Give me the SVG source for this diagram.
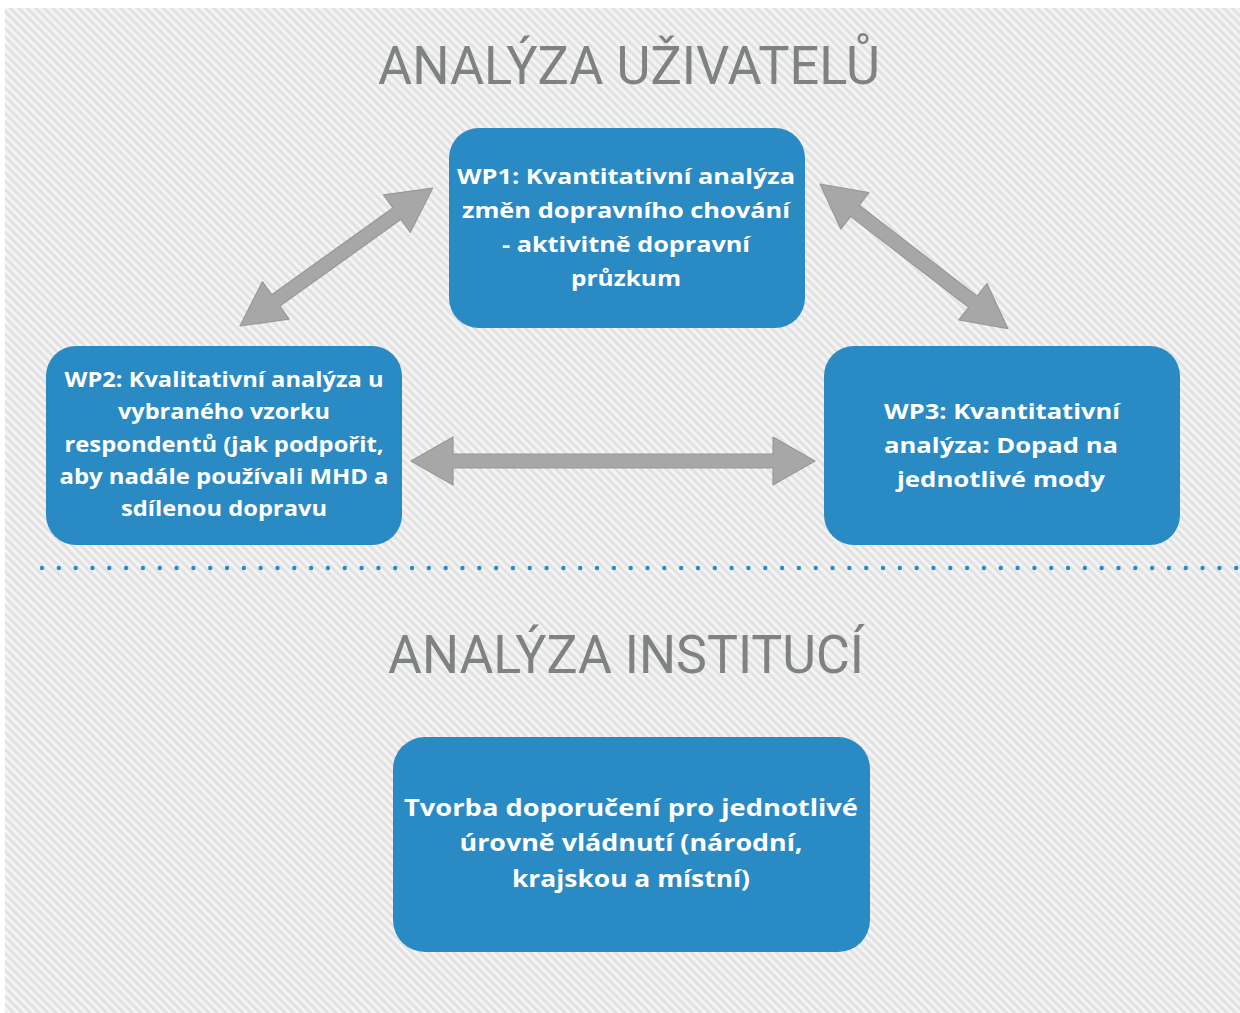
<svg xmlns="http://www.w3.org/2000/svg" width="1240" height="1013" viewBox="0 0 1240 1013">
<style>
.box{fill:#2a8ac4}
.bt{font-family:"Open Sans",Lato,"DejaVu Sans",sans-serif;font-weight:700;fill:#fff;text-anchor:middle}
.title{font-family:Roboto,"Liberation Sans",sans-serif;font-weight:400;fill:#7e8283;font-size:53px}
.arr{fill:#a6a7a6;stroke:#979898;stroke-width:1.2;stroke-linejoin:round}
</style>
<defs>
<pattern id="hatch" width="6" height="6" patternUnits="userSpaceOnUse" patternTransform="rotate(-45)">
<rect width="6" height="6" fill="#f4f4f4"/>
<rect width="3" height="6" fill="#e2e2e2"/>
</pattern>
</defs>
<rect width="1240" height="1013" fill="#fff"/>
<rect x="5" y="8" width="1235" height="1005" fill="url(#hatch)"/>
<text class="title" x="378" y="84" textLength="502" lengthAdjust="spacingAndGlyphs">ANALÝZA UŽIVATELŮ</text>
<text class="title" x="388" y="673" textLength="476" lengthAdjust="spacingAndGlyphs">ANALÝZA INSTITUCÍ</text>
<line x1="42" y1="568" x2="1238" y2="568" stroke="#2a8ac4" stroke-width="4.4" stroke-linecap="round" stroke-dasharray="0 16.82"/>
<g id="connectors">
<polygon class="arr" transform="translate(411,461)" points="0,0 42,-24 42,-7 362,-7 362,-24 404,0 362,24 362,7 42,7 42,24"/>
<polygon class="arr" transform="translate(240,326) rotate(-35.6)" points="0,0 44,-23 44,-7 193,-7 193,-23 237,0 193,23 193,7 44,7 44,23"/>
<polygon class="arr" transform="translate(820,184) rotate(37.6)" points="0,0 44,-23 44,-7 193,-7 193,-23 237,0 193,23 193,7 44,7 44,23"/>
</g>
<g id="wp1">
<rect class="box" x="449" y="128" width="356" height="200" rx="30"/>
<text class="bt" font-size="22"><tspan x="626" y="184" textLength="338" lengthAdjust="spacingAndGlyphs">WP1: Kvantitativní analýza</tspan><tspan x="626" y="218" textLength="328" lengthAdjust="spacingAndGlyphs">změn dopravního chování</tspan><tspan x="626" y="252" textLength="248" lengthAdjust="spacingAndGlyphs">- aktivitně dopravní</tspan><tspan x="626" y="286" textLength="110" lengthAdjust="spacingAndGlyphs">průzkum</tspan></text>
</g>
<g id="wp2">
<rect class="box" x="46" y="346" width="356" height="199" rx="30"/>
<text class="bt" font-size="21"><tspan x="224" y="387" textLength="319" lengthAdjust="spacingAndGlyphs">WP2: Kvalitativní analýza u</tspan><tspan x="224" y="419" textLength="212" lengthAdjust="spacingAndGlyphs">vybraného vzorku</tspan><tspan x="224" y="452" textLength="319" lengthAdjust="spacingAndGlyphs">respondentů (jak podpořit,</tspan><tspan x="224" y="484" textLength="329" lengthAdjust="spacingAndGlyphs">aby nadále používali MHD a</tspan><tspan x="224" y="516" textLength="206" lengthAdjust="spacingAndGlyphs">sdílenou dopravu</tspan></text>
</g>
<g id="wp3">
<rect class="box" x="824" y="346" width="356" height="199" rx="30"/>
<text class="bt" font-size="22"><tspan x="1002" y="419" textLength="236" lengthAdjust="spacingAndGlyphs">WP3: Kvantitativní</tspan><tspan x="1001" y="453" textLength="234" lengthAdjust="spacingAndGlyphs">analýza: Dopad na</tspan><tspan x="1001" y="487" textLength="208" lengthAdjust="spacingAndGlyphs">jednotlivé mody</tspan></text>
</g>
<g id="doporuceni">
<rect class="box" x="393" y="737" width="477" height="215" rx="32"/>
<text class="bt" font-size="23.5"><tspan x="631" y="816" textLength="454" lengthAdjust="spacingAndGlyphs">Tvorba doporučení pro jednotlivé</tspan><tspan x="631" y="851" textLength="343" lengthAdjust="spacingAndGlyphs">úrovně vládnutí (národní,</tspan><tspan x="631" y="887" textLength="238" lengthAdjust="spacingAndGlyphs">krajskou a místní)</tspan></text>
</g>
</svg>
